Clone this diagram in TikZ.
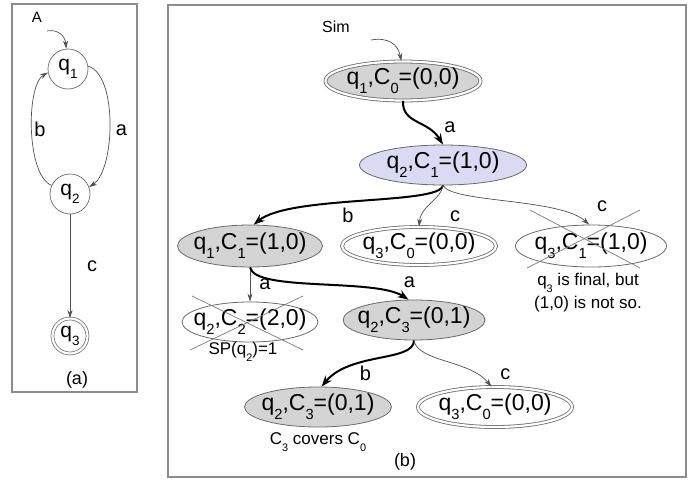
\documentclass[tikz,border=0pt]{standalone}
\usepackage{fontspec}
\setmainfont{Liberation Sans}
\usetikzlibrary{shapes.geometric,arrows.meta}
\definecolor{cfggray}{HTML}{D4D4D4}
\definecolor{cfglav}{HTML}{DADAF2}
\definecolor{rim}{HTML}{6A6A6A}
\definecolor{thinline}{HTML}{505050}
\definecolor{frame}{HTML}{8C8C8C}
\definecolor{xmark}{HTML}{7A7A7A}
\newcommand{\sbt}[1]{\raisebox{-0.4em}{\scalebox{0.64}{#1}}}
\newcommand{\cfgtext}[3]{\makebox[0pt]{q\sbt{#1},C\sbt{#2}=#3}}

\begin{document}
\begin{tikzpicture}[x=1pt,y=-1pt,line width=0.8pt,
  every node/.style={font=\fontsize{20}{22}\selectfont,inner sep=1pt}]
\tikzset{
  cfg/.style={ellipse,draw=rim,line width=0.8pt,inner sep=0pt,minimum height=41pt,font=\fontsize{23}{25}\selectfont},
  fin/.style={double=white,double distance=2.2pt},
  st/.style={circle,draw=rim,line width=0.7pt,inner sep=0pt,minimum size=40pt,font=\fontsize{21}{23}\selectfont},
  thinarr/.style={draw=thinline,line width=0.7pt,-{Stealth[length=8pt,width=5pt]}},
  thickarr/.style={draw=black,line width=2pt,-{Stealth[length=11pt,width=8pt]}},
  lab/.style={font=\fontsize{20}{22}\selectfont},
  note/.style={font=\fontsize{17}{23}\selectfont,align=center},
  capt/.style={font=\fontsize{18}{20}\selectfont},
  xout/.style={draw=xmark,line width=0.7pt},
  panel/.style={draw=frame,line width=1.2pt}
}
\useasboundingbox (0,0) rectangle (688,482);
\draw[panel] (12,4) rectangle (137,392);
\draw[panel] (168,5) rectangle (686,477);

% (a) the automaton
\node[font=\fontsize{15}{17}\selectfont] (autA) at (37,17) {A};
\node[st] (q1) at (68,69) {q\sbt{1}};
\node[st] (q2) at (70,194) {q\sbt{2}};
\node[st,fin,minimum size=35pt] (q3) at (70,336) {q\sbt{3}};
\node[capt] (capA) at (77,380) {(a)};
\coordinate (initA) at (47,31);
\draw[thinarr] (initA) .. controls (57,29) and (65,35) .. (q1.95);
\draw[thinarr] (q1.8) .. controls (118,75) and (115,170) .. (q2.20) node[lab,pos=0.5,xshift=12pt,yshift=-7pt] {a};
\draw[thinarr] (q2.155) .. controls (26,175) and (26,85) .. (q1.190) node[lab,pos=0.5,xshift=8pt] {b};
\draw[thinarr] (q2.south) -- (q3.north) node[lab,midway,xshift=22pt] {c};

% (b) the simulation tree
\node[font=\fontsize{16}{18}\selectfont] (simB) at (336,27) {Sim};
\node[cfg,fin,fill=cfggray,minimum width=155pt,minimum height=39pt] (n0) at (403,81) {\cfgtext{1}{0}{(0,0)}};
\node[cfg,fill=cfglav,minimum width=167pt,minimum height=40pt] (n1) at (443,165) {\cfgtext{2}{1}{(1,0)}};
\node[cfg,fill=cfggray,minimum width=145pt,minimum height=42pt] (n2) at (250,246) {\cfgtext{1}{1}{(1,0)}};
\node[cfg,fin,minimum width=154pt,minimum height=38pt] (n3) at (419,246) {\cfgtext{3}{0}{(0,0)}};
\node[cfg,minimum width=151pt,minimum height=42pt] (n4) at (591,246) {\cfgtext{3}{1}{(1,0)}};
\node[cfg,minimum width=136pt,minimum height=40pt] (n5) at (250,322) {\cfgtext{2}{2}{(2,0)}};
\node[cfg,fill=cfggray,minimum width=142pt,minimum height=40pt] (n6) at (414,320) {\cfgtext{2}{3}{(0,1)}};
\node[cfg,fill=cfggray,minimum width=147pt,minimum height=40pt] (n7) at (318,407) {\cfgtext{2}{3}{(0,1)}};
\node[cfg,fin,minimum width=154pt,minimum height=40pt] (n8) at (495,407) {\cfgtext{3}{0}{(0,0)}};
\node[note] (final4) at (588,293) {q\sbt{3} is final, but\\(1,0) is not so.};
\node[note] (sp5) at (243,352) {SP(q\sbt{2})=1};
\node[note] (cov7) at (318,442) {C\sbt{3} covers C\sbt{0}};
\node[capt] (capB) at (405,462) {(b)};
\draw[xout] ([shift={(-61,-36)}]n4.center) -- ++(110,58);
\draw[xout] ([shift={(49,-36)}]n4.center) -- ++(-113,58);
\draw[xout] ([shift={(-58,-26)}]n5.center) -- ++(111,54);
\draw[xout] ([shift={(53,-26)}]n5.center) -- ++(-113,54);
\coordinate (initB) at (371,40);
\draw[thinarr] (initB) .. controls (388,37) and (398,44) .. (n0.95);
\draw[thickarr] (n0.south) .. controls (402,124) and (428,120) .. (n1.north) node[lab,at end,xshift=7pt,yshift=17pt] {a};
\draw[thickarr] (n1.south) .. controls (440,205) and (290,195) .. (n2.80) node[lab,pos=0.55,yshift=-13pt] {b};
\draw[thinarr] (n1.south) .. controls (441,200) and (421,205) .. (n3.north) node[lab,at end,xshift=36pt,yshift=10pt] {c};
\draw[thinarr] (n1.south) .. controls (452,203) and (560,198) .. (n4.95) node[lab,at end,xshift=13pt,yshift=18pt] {c};
\draw[thinarr] (n2.south) -- (n5.north) node[lab,midway,xshift=15pt] {a};
\draw[thickarr] (n2.south) .. controls (255,292) and (375,278) .. (n6.105) node[lab,at end,xshift=1pt,yshift=17pt] {a};
\draw[thickarr] (n6.south) .. controls (414,362) and (350,352) .. (n7.80) node[lab,pos=0.55,xshift=-7pt,yshift=-13pt] {b};
\draw[thinarr] (n6.south) .. controls (418,362) and (470,360) .. (n8.100) node[lab,at end,xshift=14pt,yshift=12pt] {c};
\end{tikzpicture}
\end{document}
